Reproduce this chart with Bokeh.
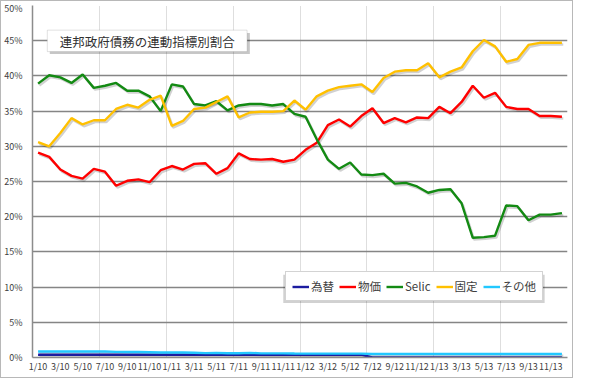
from bokeh.plotting import figure
from bokeh.models import (FixedTicker, PrintfTickFormatter, Legend, LegendItem,
                          Label, BoxAnnotation, Range1d)
from bokeh.embed import file_html
from bokeh.resources import INLINE

# ---- data (percent of federal debt by index type, monthly 1/10 .. 12/13) ----
months = [f"{m}/{y}" for y in (10, 11, 12, 13) for m in range(1, 13)]

fx = [0.4] * 30 + [0.0] * 18  # 為替
prices = [29.1, 28.5, 26.7, 25.8, 25.4, 26.8, 26.4, 24.4, 25.1, 25.3, 24.9, 26.6,
          27.2, 26.7, 27.5, 27.6, 26.1, 26.9, 29.0, 28.2, 28.1, 28.2, 27.8, 28.1,
          29.5, 30.5, 33.0, 33.8, 32.8, 34.3, 35.4, 33.3, 34.0, 33.4, 34.1, 34.0,
          35.6, 34.7, 36.3, 38.6, 36.9, 37.6, 35.6, 35.3, 35.3, 34.3, 34.3, 34.2]
selic = [38.9, 40.1, 39.8, 39.0, 40.2, 38.3, 38.6, 39.0, 37.9, 37.9, 37.1, 35.0,
         38.8, 38.5, 36.0, 35.8, 36.4, 35.1, 35.8, 36.0, 36.0, 35.8, 36.0, 34.6,
         34.2, 31.0, 28.1, 26.8, 27.7, 26.0, 25.9, 26.1, 24.7, 24.8, 24.3, 23.4,
         23.8, 23.9, 21.9, 17.0, 17.1, 17.3, 21.6, 21.5, 19.5, 20.3, 20.3, 20.5]
fixed = [30.6, 30.0, 31.9, 34.0, 33.1, 33.7, 33.7, 35.3, 35.9, 35.5, 36.6, 37.2,
         32.9, 33.6, 35.3, 35.5, 36.3, 37.1, 34.1, 34.8, 34.9, 34.9, 35.0, 36.5,
         35.2, 37.1, 37.9, 38.4, 38.6, 38.8, 37.7, 39.7, 40.6, 40.8, 40.8, 41.8,
         39.8, 40.6, 41.2, 43.5, 45.1, 44.2, 42.0, 42.4, 44.4, 44.7, 44.7, 44.7]
other = [0.85, 0.85, 0.85, 0.85, 0.85, 0.85, 0.85, 0.80, 0.78, 0.78, 0.75, 0.72,
         0.70, 0.70, 0.68, 0.62, 0.66, 0.60, 0.60, 0.66, 0.58, 0.58, 0.58, 0.56,
         0.55, 0.55, 0.55, 0.55, 0.55, 0.55, 0.50, 0.50, 0.50, 0.50, 0.50, 0.50,
         0.50, 0.50, 0.50, 0.50, 0.50, 0.50, 0.50, 0.50, 0.50, 0.50, 0.50, 0.50]

series_names = ["為替", "物価", "Selic", "固定", "その他"]
series_values = [fx, prices, selic, fixed, other]
series_colors = ["#1c1ca0", "#ff0000", "#138a13", "#ffc000", "#22c8ff"]
title_text = "連邦政府債務の連動指標別割合"

FONT = "Noto Sans CJK JP"
x = list(range(len(months)))

p = figure(width=573, height=378, output_backend="svg", toolbar_location=None,
           x_range=Range1d(-0.5, len(months) - 0.5), y_range=Range1d(0, 50),
           min_border_left=22, min_border_right=7, min_border_top=4,
           min_border_bottom=22)
p.outline_line_color = None
p.background_fill_color = "white"
p.border_fill_color = "white"
p.styles = {"border": "1px solid #b8b8b8"}

# axes
p.yaxis.ticker = FixedTicker(ticks=list(range(0, 51, 5)))
p.yaxis.formatter = PrintfTickFormatter(format="%d%%")
p.xaxis.ticker = FixedTicker(ticks=list(range(0, len(months), 2)))
p.xaxis.major_label_overrides = {i: months[i] for i in range(0, len(months), 2)}
for ax in (p.xaxis, p.yaxis):
    ax.major_label_text_font = FONT
    ax.major_label_text_font_size = "9px"
    ax.major_label_text_color = "#404040"
    ax.major_tick_line_color = None
    ax.minor_tick_line_color = None
    ax.axis_line_color = "#8c8c8c"
    ax.axis_line_width = 1.5
p.yaxis.major_label_standoff = 4
p.xaxis.major_label_standoff = -4

# grids
p.ygrid.ticker = FixedTicker(ticks=list(range(5, 51, 5)))
p.ygrid.grid_line_color = "#858585"
p.ygrid.grid_line_width = 1.5
p.xgrid.ticker = FixedTicker(ticks=[i + 5.5 for i in range(0, len(months), 6)])
p.xgrid.grid_line_color = "#bdbdbd"
p.xgrid.grid_line_dash = "1 1"
p.xgrid.grid_line_width = 1

# shadows under lines
for vals in series_values:
    p.line([xi + 0.12 for xi in x], [v - 0.25 for v in vals], line_color="#000000",
           line_alpha=0.18, line_width=2.5)

renderers = []
for name, vals, col in zip(series_names, series_values, series_colors):
    r = p.line(x, vals, line_color=col, line_width=2.4)
    renderers.append((name, r))

# legend shadow
p.add_layout(BoxAnnotation(left=22.0, right=45.45, top=11.75, bottom=7.75,
                           fill_color="#000000", fill_alpha=0.18, line_color=None))
legend = Legend(items=[LegendItem(label=n, renderers=[r]) for n, r in renderers],
                orientation="horizontal", location=(253, 56),
                label_text_font=FONT, label_text_font_size="11.5px",
                label_text_color="#404040",
                glyph_width=17, glyph_height=15, label_height=15,
                label_standoff=2, spacing=5, padding=6, margin=0,
                border_line_color="#a8a8a8", border_line_width=1,
                background_fill_color="white", background_fill_alpha=1)
p.add_layout(legend, "center")

# title box with shadow
p.add_layout(BoxAnnotation(left=1.05, right=19.0, top=46.1, bottom=43.1,
                           fill_color="#000000", fill_alpha=0.22, line_color=None))
p.add_layout(BoxAnnotation(left=0.83, right=18.75, top=46.5, bottom=43.45,
                           fill_color="white", fill_alpha=1, line_color="#9a9a9a",
                           line_width=1))
p.add_layout(Label(x=9.8, y=44.95, text=title_text, text_align="center",
                   text_baseline="middle", text_font=FONT,
                   text_font_size="12.5px", text_color="#303030"))

open("out.html", "w").write(file_html(p, INLINE))
